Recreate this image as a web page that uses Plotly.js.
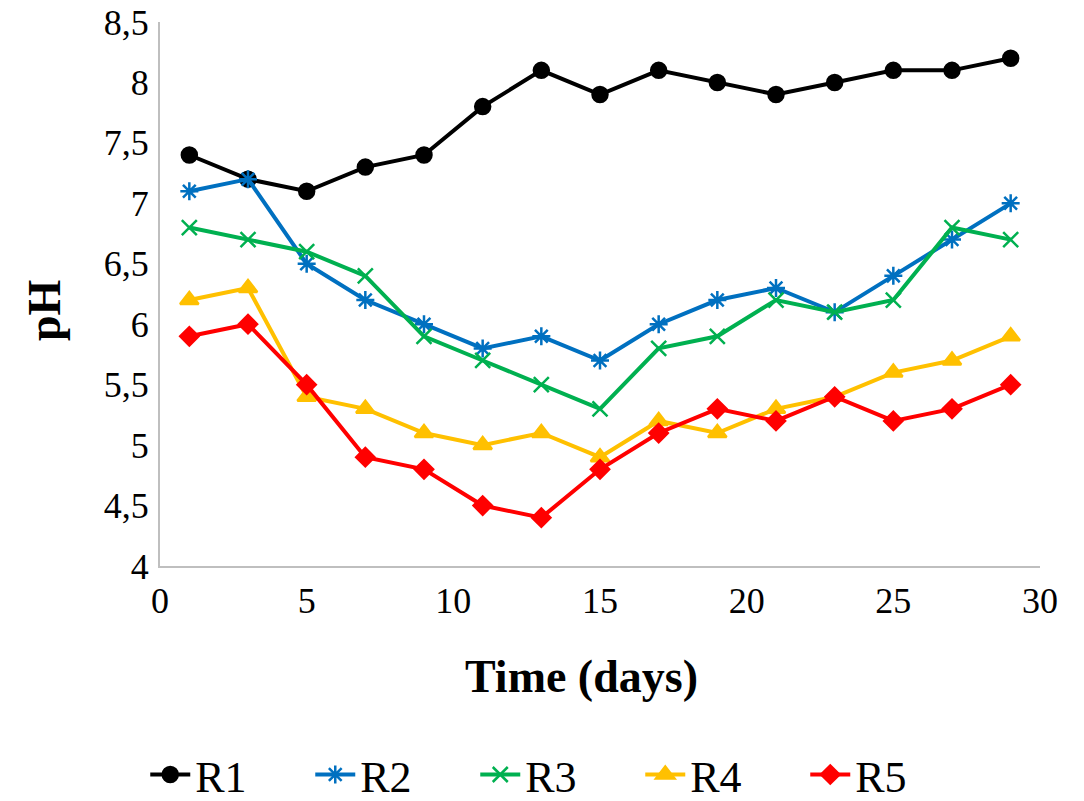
<!DOCTYPE html>
<html><head><meta charset="utf-8">
<script src="https://cdn.plot.ly/plotly-3.0.1.min.js"></script>
<style>body{margin:0;background:#fff}#c{width:1084px;height:801px}</style>
</head><body><div id="c"></div>
<script>
const days = [1,3,5,7,9,11,13,15,17,19,21,23,25,27,29];
const r1 = [7.4,7.2,7.1,7.3,7.4,7.8,8.1,7.9,8.1,8.0,7.9,8.0,8.1,8.1,8.2];
const r2 = [7.1,7.2,6.5,6.2,6.0,5.8,5.9,5.7,6.0,6.2,6.3,6.1,6.4,6.7,7.0];
const r3 = [6.8,6.7,6.6,6.4,5.9,5.7,5.5,5.3,5.8,5.9,6.2,6.1,6.2,6.8,6.7];
const r4 = [6.2,6.3,5.4,5.3,5.1,5.0,5.1,4.9,5.2,5.1,5.3,5.4,5.6,5.7,5.9];
const r5 = [5.9,6.0,5.5,4.9,4.8,4.5,4.4,4.8,5.1,5.3,5.2,5.4,5.2,5.3,5.5];
const names = ['R1','R2','R3','R4','R5'];
const xTicks = [0,5,10,15,20,25,30];
const yTicks = [4,4.5,5,5.5,6,6.5,7,7.5,8,8.5];
const yTickText = ['4','4,5','5','5,5','6','6,5','7','7,5','8','8,5'];

const series = [r1,r2,r3,r4,r5];
const colors = ['#000000','#0070C0','#00B050','#FFC000','#FF0000'];
const symbols = ['circle','asterisk-open','x-thin-open','triangle-up','diamond'];
const sizes = [15,15,15,16,14];
const traces = series.map((s,i)=>({
  x: days, y: s, name: names[i], type:'scatter', mode:'lines+markers',
  line:{color:colors[i], width:4},
  marker:{symbol:symbols[i], size:sizes[i], color:colors[i], line:{color:colors[i], width:2.5}}
}));

const layout = {
  width:1084, height:801,
  margin:{l:160, r:44, t:22, b:235, autoexpand:false},
  paper_bgcolor:'#fff', plot_bgcolor:'#fff',
  font:{family:'Liberation Serif, serif', color:'#000', size:36},
  showlegend:true,
  legend:{orientation:'h', x:0.452, xanchor:'center', y:-0.384, yanchor:'middle',
    font:{size:44}, entrywidth:110, entrywidthmode:'pixels', itemwidth:40, tracegroupgap:0},
  xaxis:{range:[0,30], tickvals:xTicks, showgrid:false, zeroline:false,
    showline:true, linecolor:'#BFBFBF', linewidth:2, ticks:'', tickfont:{size:36}, ticklabelstandoff:2},
  yaxis:{range:[4,8.5], tickvals:yTicks, ticktext:yTickText, showgrid:false, zeroline:false,
    showline:true, linecolor:'#BFBFBF', linewidth:2, ticks:'', tickfont:{size:36}, ticklabelstandoff:2},
  annotations:[
    {text:'<b>Time (days)</b>', xref:'paper', yref:'paper', x:0.4795, y:-0.204, xanchor:'center', yanchor:'middle', showarrow:false, font:{size:46}},
    {text:'<b>pH</b>', xref:'paper', yref:'paper', x:-0.1307, y:0.4706, xanchor:'center', yanchor:'middle', textangle:-90, showarrow:false, font:{size:46}}
  ]
};
Plotly.newPlot('c', traces, layout, {displayModeBar:false});
</script></body></html>
